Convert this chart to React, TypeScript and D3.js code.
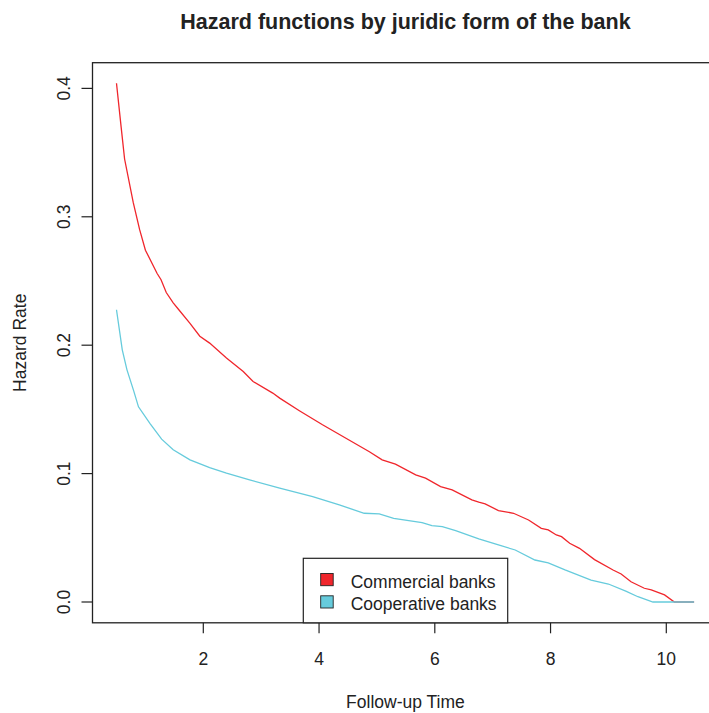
import React from "react";
import * as d3 from "d3";

// Follow-up time (years) and estimated hazard rate for each bank type
const commercialTime = [0.5, 0.58, 0.64, 0.79, 0.9, 1.0, 1.2, 1.27, 1.36, 1.48, 1.57, 1.77, 1.94, 2.11, 2.4, 2.69, 2.86, 3.2, 3.32, 3.66, 4.06, 4.87, 5.09, 5.32, 5.67, 5.84, 6.1, 6.3, 6.64, 6.76, 6.87, 7.1, 7.36, 7.62, 7.84, 7.96, 8.1, 8.19, 8.33, 8.5, 8.76, 9.08, 9.22, 9.39, 9.62, 9.74, 9.97, 10.14, 10.48];
const commercialHazard = [0.404, 0.37, 0.345, 0.311, 0.29, 0.274, 0.256, 0.251, 0.241, 0.233, 0.228, 0.217, 0.207, 0.2016, 0.19, 0.1795, 0.1717, 0.1627, 0.1588, 0.149, 0.138, 0.117, 0.1107, 0.1073, 0.099, 0.0964, 0.0899, 0.0873, 0.0795, 0.0777, 0.0764, 0.0712, 0.0691, 0.0639, 0.0574, 0.0561, 0.0522, 0.0509, 0.0457, 0.0418, 0.033, 0.0249, 0.0218, 0.0158, 0.0107, 0.0094, 0.0055, 0, 0];

const cooperativeTime = [0.5, 0.6, 0.68, 0.8, 0.88, 1.08, 1.28, 1.48, 1.77, 2.11, 2.4, 2.8, 3.32, 3.89, 4.35, 4.78, 5.04, 5.29, 5.78, 5.95, 6.13, 6.36, 6.76, 7.1, 7.39, 7.73, 7.96, 8.25, 8.7, 9.0, 9.3, 9.51, 9.77, 10.48];
const cooperativeHazard = [0.2276, 0.1964, 0.181, 0.164, 0.152, 0.139, 0.1268, 0.1185, 0.1107, 0.1047, 0.1003, 0.0951, 0.0886, 0.082, 0.0756, 0.0691, 0.0686, 0.0652, 0.0618, 0.0595, 0.0587, 0.0556, 0.0491, 0.0444, 0.0405, 0.0327, 0.0305, 0.025, 0.017, 0.014, 0.0085, 0.0041, 0, 0];

const seriesNames = ["Commercial banks", "Cooperative banks"];
const seriesColors = ["#f0262c", "#66cbdc"];

const xTicks = [2, 4, 6, 8, 10];
const yTicks = [0, 0.1, 0.2, 0.3, 0.4];

const W = 709;
const H = 713;
const FONT = "'Liberation Sans', Arial, Helvetica, sans-serif";

export default function App() {
  const left = 92.5;
  const top = 62.7;
  const bottom = 622.8;
  const xMin = 0.0855;
  const xMax = 10.9;
  const pxPerUnit = 57.875;
  const right = left + (xMax - xMin) * pxPerUnit;

  const x = d3.scaleLinear().domain([xMin, xMax]).range([left, right]);
  const y = d3.scaleLinear().domain([-0.0162, 0.42]).range([bottom, top]);

  const line = d3
    .line<[number, number]>()
    .x((d) => x(d[0]))
    .y((d) => y(d[1]));

  const commercial = commercialTime.map((t, i) => [t, commercialHazard[i]] as [number, number]);
  const cooperative = cooperativeTime.map((t, i) => [t, cooperativeHazard[i]] as [number, number]);

  const textColor = "#222";
  const cx = (left + right) / 2;
  const cy = (top + bottom) / 2;

  return (
    <svg
      width={W}
      height={H}
      style={{ position: "absolute", left: 0, top: 0, background: "#fff" }}
      fontFamily={FONT}
    >
      <rect x={0} y={0} width={W} height={H} fill="#fff" />

      {/* hazard curves */}
      <path d={line(commercial) || ""} fill="none" stroke={seriesColors[0]} strokeWidth={1.3} />
      <path d={line(cooperative) || ""} fill="none" stroke={seriesColors[1]} strokeWidth={1.3} />

      {/* plot frame */}
      <rect x={left} y={top} width={right - left} height={bottom - top} fill="none" stroke="#222" strokeWidth={1.3} />

      {/* x axis */}
      {xTicks.map((t) => (
        <g key={"x" + t}>
          <line x1={x(t)} x2={x(t)} y1={bottom} y2={bottom + 10.5} stroke="#222" strokeWidth={1.2} />
          <text x={x(t)} y={665} textAnchor="middle" fontSize={17.5} fill={textColor}>
            {t}
          </text>
        </g>
      ))}

      {/* y axis */}
      {yTicks.map((v) => (
        <g key={"y" + v}>
          <line x1={left} x2={left - 11} y1={y(v)} y2={y(v)} stroke="#222" strokeWidth={1.2} />
          <text
            transform={`translate(70,${y(v)}) rotate(-90)`}
            textAnchor="middle"
            fontSize={17.5}
            fill={textColor}
          >
            {v.toFixed(1)}
          </text>
        </g>
      ))}

      {/* titles */}
      <text x={cx} y={28.5} textAnchor="middle" fontSize={21.5} fontWeight="bold" fill={textColor}>
        Hazard functions by juridic form of the bank
      </text>
      <text x={cx} y={708} textAnchor="middle" fontSize={17.5} fill={textColor}>
        Follow-up Time
      </text>
      <text transform={`translate(26,${cy}) rotate(-90)`} textAnchor="middle" fontSize={17.5} fill={textColor}>
        Hazard Rate
      </text>

      {/* legend */}
      <rect x={303.3} y={558.3} width={204.4} height={bottom - 558.3} fill="#fff" stroke="#222" strokeWidth={1.2} />
      {seriesNames.map((name, i) => (
        <g key={name}>
          <rect
            x={320.7}
            y={573.5 + i * 22.3}
            width={12.5}
            height={12.2}
            fill={seriesColors[i]}
            stroke="#222"
            strokeWidth={0.9}
          />
          <text x={350.7} y={588.3 + i * 22} fontSize={17.5} fill={textColor}>
            {name}
          </text>
        </g>
      ))}
    </svg>
  );
}
